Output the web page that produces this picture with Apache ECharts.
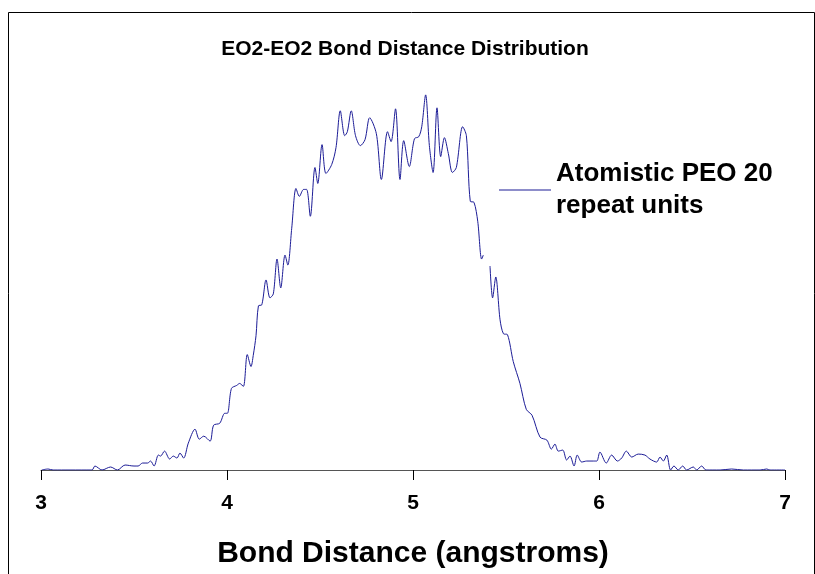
<!DOCTYPE html>
<html>
<head>
<meta charset="utf-8">
<script src="https://cdn.jsdelivr.net/npm/echarts@6/dist/echarts.min.js"></script>
<style>
html,body{margin:0;padding:0;background:#fff;}
#chart{width:815px;height:574px;}
</style>
</head>
<body>
<div id="chart"></div>
<script>
// Bond distance (angstroms)
const distances = [
  3.004, 3.038, 3.065, 3.156, 3.274, 3.290, 3.328, 3.374, 3.411, 3.452,
  3.500, 3.522, 3.546, 3.573, 3.589, 3.608, 3.631, 3.643, 3.664, 3.692,
  3.711, 3.731, 3.747, 3.767, 3.792, 3.828, 3.851, 3.875, 3.909, 3.928,
  3.961, 3.988, 4.002, 4.024, 4.052, 4.068, 4.088, 4.109, 4.129, 4.141,
  4.156, 4.169, 4.187, 4.210, 4.231, 4.249, 4.269, 4.289, 4.312, 4.327,
  4.348, 4.371, 4.389, 4.412, 4.428, 4.448, 4.473, 4.488, 4.511, 4.532,
  4.563, 4.586, 4.609, 4.633, 4.647, 4.668, 4.691, 4.717, 4.742, 4.767,
  4.803, 4.830, 4.863, 4.882, 4.906, 4.930, 4.950, 4.980, 5.008, 5.031,
  5.047, 5.068, 5.088, 5.108, 5.129, 5.149, 5.169, 5.190, 5.212, 5.233,
  5.267, 5.287, 5.308, 5.328, 5.348, 5.369, 5.378, 5.385, 5.414, 5.428,
  5.445, 5.468, 5.486, 5.508, 5.539, 5.575, 5.609, 5.640, 5.683, 5.720,
  5.744, 5.763, 5.781, 5.805, 5.826, 5.844, 5.866, 5.883, 5.907, 5.934,
  5.969, 5.988, 6.005, 6.039, 6.068, 6.099, 6.122, 6.147, 6.176, 6.211,
  6.247, 6.274, 6.310, 6.328, 6.346, 6.364, 6.385, 6.403, 6.426, 6.450,
  6.471, 6.507, 6.525, 6.552, 6.575, 6.651, 6.713, 6.776, 6.866, 6.902,
  6.919, 7.000
];
// Relative frequency (arbitrary units); '-' marks the missing sample
const counts = [
  0, 1, 0, 0, 0, 4, 0, 3, 0, 5,
  4, 4, 7, 7, 9, 4, 15, 14, 19, 11,
  14, 12, 17, 12, 27, 41, 31, 34, 29, 45,
  47, 57, 57, 82, 85, 87, 84, 116, 104, 115,
  135, 165, 166, 191, 173, 177, 212, 183, 216, 206,
  243, 283, 275, 282, 282, 255, 304, 288, 327, 298,
  307, 324, 361, 336, 340, 361, 336, 326, 332, 354,
  338, 292, 340, 330, 363, 292, 331, 305, 333, 335,
  345, 377, 326, 299, 364, 315, 334, 318, 299, 304,
  345, 336, 270, 269, 250, 212, 216, '-', 205, 173,
  194, 151, 137, 136, 109, 87, 61, 55, 33, 30,
  21, 26, 19, 20, 10, 14, 4, 15, 8, 9,
  9, 9, 18, 7, 15, 9, 12, 19, 13, 16,
  15, 11, 8, 13, 9, 15, 0, 4, 0, 4,
  0, 3, 0, 4, 0, 0, 1, 0, 0, 1,
  0, 0
];
const xTicks = [3, 4, 5, 6, 7];
const seriesName = 'Atomistic PEO 20\nrepeat units';

const chart = echarts.init(document.getElementById('chart'), null, {renderer: 'canvas'});
const FONT = '"Liberation Sans", Arial, sans-serif';
chart.setOption({
  backgroundColor: '#fff',
  animation: false,
  title: {
    text: 'EO2-EO2 Bond Distance Distribution',
    left: 400, top: 34, textAlign: 'center',
    textStyle: {fontFamily: FONT, fontWeight: 'bold', fontSize: 21, color: '#000'}
  },
  graphic: [{
    type: 'rect', left: 6, top: 10, silent: true,
    shape: {x: 0, y: 0, width: 806, height: 620},
    style: {fill: 'none', stroke: '#000', lineWidth: 1}
  }],
  legend: {
    left: 499, top: 142, padding: 0,
    itemWidth: 52, itemHeight: 1, icon: 'rect',
    data: [seriesName],
    textStyle: {fontFamily: FONT, fontWeight: 'bold', fontSize: 26, color: '#000', lineHeight: 32, padding: [32, 0, 0, 0]}
  },
  grid: {left: 41, right: 30, top: 72, bottom: 102},
  xAxis: {
    type: 'value', min: xTicks[0], max: xTicks[xTicks.length - 1], interval: 1,
    axisLine: {lineStyle: {color: '#555', width: 1}},
    axisTick: {show: true, inside: false, length: 10, lineStyle: {color: '#000'}},
    splitLine: {show: false},
    axisLabel: {margin: 23, fontFamily: FONT, fontWeight: 'bold', fontSize: 21, color: '#000'},
    name: 'Bond Distance (angstroms)', nameLocation: 'middle', nameGap: 69,
    nameTextStyle: {fontFamily: FONT, fontWeight: 'bold', fontSize: 30, color: '#000'}
  },
  yAxis: {type: 'value', min: 0, max: 400, show: false, splitLine: {show: false}},
  series: [{
    name: seriesName, type: 'line', showSymbol: false, symbol: 'none',
    smooth: 0.3, connectNulls: false,
    lineStyle: {color: '#1c1c96', width: 1},
    itemStyle: {color: '#1c1c96'},
    data: distances.map((d, i) => [d, counts[i]])
  }]
});
</script>
</body>
</html>
